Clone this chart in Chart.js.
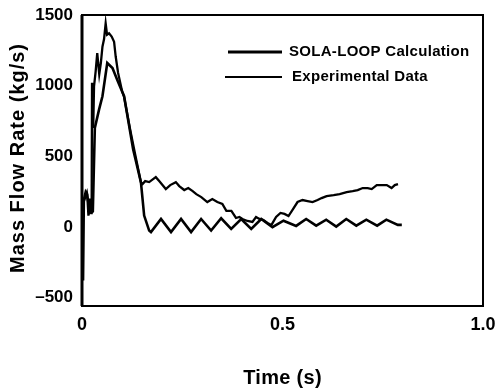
<!DOCTYPE html>
<html>
<head>
<meta charset="utf-8">
<script src="https://cdn.jsdelivr.net/npm/chart.js@4"></script>
<style>
  body { margin: 0; background: #fff; }
  canvas { display: block; }
</style>
</head>
<body>
<canvas id="flow" width="498" height="388"></canvas>
<script>
// SOLA-LOOP calculation (s, kg/s)
const calcTime = [0, 0.004, 0.012, 0.02, 0.027, 0.032, 0.0425, 0.051, 0.063, 0.076, 0.088, 0.105, 0.1275, 0.147, 0.155, 0.1675, 0.172,
  0.197, 0.222, 0.247, 0.272, 0.297, 0.322, 0.347, 0.372, 0.397, 0.422, 0.447, 0.475, 0.5025,
  0.534, 0.559, 0.584, 0.609, 0.634, 0.659, 0.684, 0.709, 0.736, 0.759, 0.7875, 0.7975];
const calcFlow = [0, 180, 240, 100, 110, 700, 830, 925, 1160, 1125, 1040, 925, 550, 315, 80, -26, -37,
  56, -37, 56, -37, 56, -26, 61, -14, 56, -14, 56, -2, 44,
  7, 56, 9, 51, 2, 56, 9, 51, 9, 51, 14, 14];

// experimental data (s, kg/s)
const expTime = [0, 0.003, 0.005, 0.009, 0.013, 0.016, 0.02, 0.024, 0.025, 0.028, 0.03, 0.034, 0.038, 0.043, 0.047, 0.051, 0.055,
  0.059, 0.0625, 0.0675, 0.074, 0.08, 0.084, 0.09, 0.1, 0.105, 0.12, 0.1325, 0.147, 0.151, 0.1575, 0.1675, 0.184,
  0.1925, 0.209, 0.22, 0.234, 0.2425, 0.255, 0.265, 0.276, 0.285, 0.2975, 0.3125, 0.325, 0.3375, 0.35, 0.36,
  0.3725, 0.384, 0.3925, 0.4, 0.4125, 0.425, 0.434, 0.4425, 0.4525, 0.4625, 0.4725, 0.484, 0.495, 0.505,
  0.515, 0.525, 0.5375, 0.55, 0.5625, 0.575, 0.5875, 0.5975, 0.61, 0.6275, 0.6425, 0.66, 0.675, 0.6875,
  0.7, 0.7125, 0.7225, 0.735, 0.75, 0.76, 0.772, 0.78, 0.788];
const expFlow = [0, -380, 200, 250, 230, 80, 200, 90, 1020, 700, 995, 1100, 1230, 1080, 1160, 1276, 1330,
  1441, 1360, 1370, 1347, 1311, 1206, 1090, 960, 920, 690, 515, 315, 303, 324, 317, 352,
  324, 268, 296, 317, 289, 261, 275, 253, 232, 211, 176, 197, 176, 162, 113,
  113, 63, 70, 56, 42, 35, 70, 56, 49, 28, 14, 70, 99, 92,
  77, 120, 176, 190, 183, 176, 190, 204, 218, 225, 232, 246, 253, 260,
  275, 275, 268, 296, 296, 296, 275, 296, 303];

const xTicks = [0, 0.5, 1.0];
const xTickLabels = ['0', '0.5', '1.0'];
const yTicks = [-500, 0, 500, 1000, 1500];
const yTickLabels = ['\u2013500', '0', '500', '1000', '1500'];

const seriesNames = ['SOLA-LOOP Calculation', 'Experimental Data'];

const toPoints = (xs, ys) => xs.map((x, i) => ({ x: x, y: ys[i] }));

const FONT = '"Liberation Sans", Arial, sans-serif';

// box round the plot, legend and axis titles
const decor = {
  id: 'decor',
  afterDraw(chart) {
    const { ctx, chartArea: a } = chart;
    ctx.save();
    ctx.strokeStyle = '#000';
    ctx.lineWidth = 2;
    ctx.strokeRect(a.left, a.top, a.right - a.left, a.bottom - a.top);
    ctx.lineWidth = 3;
    ctx.beginPath();
    ctx.moveTo(a.left, a.top);
    ctx.lineTo(a.left, a.bottom);
    ctx.stroke();

    // legend
    ctx.fillStyle = '#000';
    ctx.font = 'bold 15px ' + FONT;
    ctx.letterSpacing = '0.3px';
    ctx.textBaseline = 'middle';
    ctx.textAlign = 'left';
    ctx.lineWidth = 2.8;
    ctx.beginPath();
    ctx.moveTo(a.left + 146, a.top + 37);
    ctx.lineTo(a.left + 200, a.top + 37);
    ctx.stroke();
    ctx.fillText(seriesNames[0], a.left + 207, a.top + 37);
    ctx.lineWidth = 2;
    ctx.beginPath();
    ctx.moveTo(a.left + 143, a.top + 62);
    ctx.lineTo(a.left + 200, a.top + 62);
    ctx.stroke();
    ctx.fillText(seriesNames[1], a.left + 210, a.top + 62);

    // axis titles
    ctx.textAlign = 'center';
    ctx.font = 'bold 20px ' + FONT;
    ctx.letterSpacing = '0.3px';
    ctx.fillText('Time (s)', (a.left + a.right) / 2, 378);
    ctx.translate(18, 158);
    ctx.rotate(-Math.PI / 2);
    ctx.font = 'bold 20px ' + FONT;
    ctx.letterSpacing = '1px';
    ctx.fillText('Mass Flow Rate (kg/s)', 0, 0);
    ctx.restore();
  }
};

new Chart(document.getElementById('flow'), {
  type: 'line',
  data: {
    datasets: [
      {
        label: seriesNames[0],
        data: toPoints(calcTime, calcFlow),
        borderColor: '#000',
        borderWidth: 2.6,
        pointRadius: 0,
        tension: 0,
        fill: false
      },
      {
        label: seriesNames[1],
        data: toPoints(expTime, expFlow),
        borderColor: '#000',
        borderWidth: 2.3,
        pointRadius: 0,
        tension: 0,
        fill: false
      }
    ]
  },
  options: {
    responsive: false,
    animation: false,
    layout: { padding: { left: 0, right: 15, top: 15, bottom: 0 } },
    plugins: { legend: { display: false }, tooltip: { enabled: false } },
    scales: {
      x: {
        type: 'linear',
        min: 0,
        max: 1.0,
        grid: { display: false, drawTicks: false },
        border: { display: false },
        afterBuildTicks: s => { s.ticks = xTicks.map(v => ({ value: v })); },
        afterFit: s => { s.height = 82; s.paddingLeft = 0; s.paddingRight = 0; },
        ticks: {
          padding: 8,
          color: '#000',
          maxRotation: 0,
          font: { family: FONT, size: 18, weight: 'bold' },
          callback: (v, i) => xTickLabels[i]
        }
      },
      y: {
        min: -560,
        max: 1500,
        grid: { display: false, drawTicks: false },
        border: { display: false },
        afterBuildTicks: s => { s.ticks = yTicks.map(v => ({ value: v })); },
        afterFit: s => { s.width = 82; s.paddingTop = 0; s.paddingBottom = 0; },
        ticks: {
          padding: 9,
          color: '#000',
          font: { family: FONT, size: 17, weight: 'bold' },
          callback: (v, i) => yTickLabels[i]
        }
      }
    }
  },
  plugins: [decor]
});
</script>
</body>
</html>
